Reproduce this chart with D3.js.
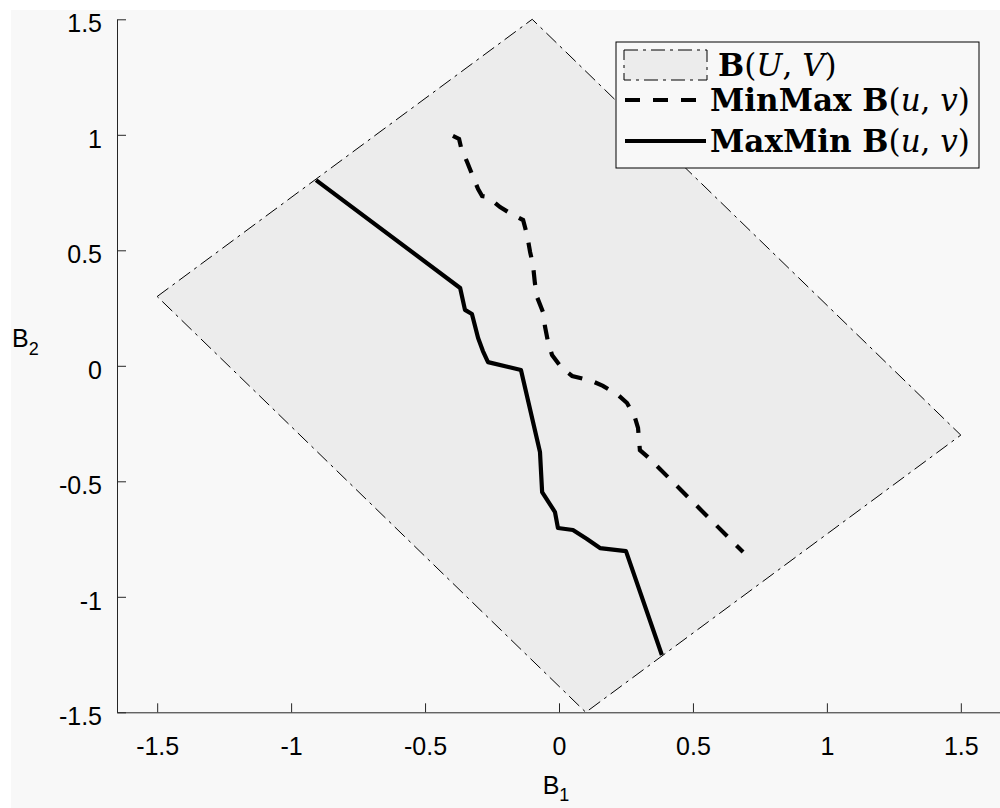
<!DOCTYPE html>
<html>
<head>
<meta charset="utf-8">
<script src="https://cdn.jsdelivr.net/npm/d3@7"></script>
<style>
  html, body { margin: 0; padding: 0; background: #ffffff; }
  svg { display: block; }
</style>
</head>
<body>
<svg id="chart" width="1000" height="808"></svg>
<script>
// ---- data ----
const xTicks = [-1.5, -1, -0.5, 0, 0.5, 1, 1.5];
const yTicks = [-1.5, -1, -0.5, 0, 0.5, 1, 1.5];

// region B(U,V) vertices
const regionX = [-1.5, -0.1, 1.5, 0.1];
const regionY = [0.3, 1.5, -0.3, -1.5];

// MinMax B(u,v) (dashed)
const minMaxX = [-0.396, -0.373, -0.366, -0.343, -0.325, -0.302, -0.287, -0.265, -0.220, -0.183, -0.134, -0.119, -0.108, -0.097, -0.090, -0.082, -0.060, -0.052, -0.041, -0.026, 0.011, 0.049, 0.123, 0.164, 0.220, 0.254, 0.284, 0.295, 0.302, 0.332, 0.687];
const minMaxY = [0.995, 0.982, 0.947, 0.882, 0.830, 0.765, 0.735, 0.731, 0.687, 0.661, 0.631, 0.566, 0.493, 0.437, 0.358, 0.298, 0.233, 0.168, 0.103, 0.047, -0.010, -0.044, -0.066, -0.087, -0.126, -0.161, -0.226, -0.269, -0.365, -0.395, -0.806];

// MaxMin B(u,v) (solid)
const maxMinX = [-0.907, -0.369, -0.351, -0.325, -0.302, -0.284, -0.265, -0.142, -0.071, -0.063, -0.015, -0.004, 0.052, 0.103, 0.153, 0.250, 0.384];
const maxMinY = [0.804, 0.337, 0.242, 0.224, 0.120, 0.064, 0.016, -0.018, -0.373, -0.547, -0.633, -0.702, -0.711, -0.749, -0.789, -0.802, -1.252];

const legendLabels = ["MinMax", "MaxMin"];

// ---- drawing ----
const svg = d3.select("#chart");
const bg = "#f8f8f8";
const fillCol = "#ececec";
const axisCol = "#262626";

svg.append("rect").attr("x", 11).attr("y", 10).attr("width", 989).attr("height", 798).attr("fill", bg);

const x = d3.scaleLinear().domain([-1.65, 1.65]).range([117, 1001]);
const y = d3.scaleLinear().domain([-1.5, 1.5]).range([712.3, 19.3]);

const line = d3.line().x(d => x(d[0])).y(d => y(d[1]));

// region
const regionPts = regionX.map((v, i) => [v, regionY[i]]);
svg.append("path")
  .attr("d", line(regionPts) + "Z")
  .attr("fill", fillCol)
  .attr("stroke", "#000")
  .attr("stroke-width", 1)
  .attr("stroke-dasharray", "14,5,3,5");

// MaxMin solid
svg.append("path")
  .attr("d", line(maxMinX.map((v, i) => [v, maxMinY[i]])))
  .attr("fill", "none")
  .attr("stroke", "#000")
  .attr("stroke-width", 4.2)
  .attr("stroke-linejoin", "round");

// MinMax dashed
svg.append("path")
  .attr("d", line(minMaxX.map((v, i) => [v, minMaxY[i]])))
  .attr("fill", "none")
  .attr("stroke", "#000")
  .attr("stroke-width", 4.2)
  .attr("stroke-dasharray", "15,13");

// axes
const fmt = d => String(d);
const xAxis = d3.axisBottom(x).tickValues(xTicks).tickFormat(fmt).tickSizeInner(-9).tickSizeOuter(0).tickPadding(25);
const yAxis = d3.axisLeft(y).tickValues(yTicks).tickFormat(fmt).tickSizeInner(-9).tickSizeOuter(0).tickPadding(15);

const gx = svg.append("g").attr("transform", `translate(0,${y(-1.5)})`).call(xAxis);
const gy = svg.append("g").attr("transform", `translate(${x(-1.65)},0)`).call(yAxis);
[gx, gy].forEach(g => {
  g.select(".domain").attr("stroke", axisCol).attr("stroke-width", 1);
  g.selectAll(".tick line").attr("stroke", axisCol);
  g.selectAll(".tick text").attr("fill", "#000").attr("font-family", "Liberation Sans, Arial, sans-serif").attr("font-size", 25);
});
gy.selectAll(".tick text").attr("dy", "0.5em");

// axis labels
const xl = svg.append("text").attr("x", 556).attr("y", 794).attr("text-anchor", "middle")
  .attr("font-family", "Liberation Sans, Arial, sans-serif").attr("font-size", 25).attr("fill", "#000");
xl.append("tspan").text("B");
xl.append("tspan").attr("font-size", 18).attr("dy", 7).text("1");

const yl = svg.append("text").attr("x", 12).attr("y", 347)
  .attr("font-family", "Liberation Sans, Arial, sans-serif").attr("font-size", 25).attr("fill", "#000");
yl.append("tspan").text("B");
yl.append("tspan").attr("font-size", 18).attr("dy", 8).text("2");

// legend
const lg = svg.append("g");
lg.append("rect").attr("x", 616).attr("y", 42).attr("width", 363).attr("height", 126)
  .attr("fill", bg).attr("stroke", "#000").attr("stroke-width", 1);

const rowY = [65, 100, 141];
lg.append("rect").attr("x", 624).attr("y", rowY[0] - 15).attr("width", 83).attr("height", 30)
  .attr("fill", fillCol).attr("stroke", "#000").attr("stroke-width", 1).attr("stroke-dasharray", "14,5,3,5");
lg.append("line").attr("x1", 625).attr("x2", 706).attr("y1", rowY[1]).attr("y2", rowY[1])
  .attr("stroke", "#000").attr("stroke-width", 4.2).attr("stroke-dasharray", "15,13");
lg.append("line").attr("x1", 625).attr("x2", 706).attr("y1", rowY[2]).attr("y2", rowY[2])
  .attr("stroke", "#000").attr("stroke-width", 4.2);

const serif = "DejaVu Serif, Liberation Serif, serif";
function bForm(t, args) {
  t.append("tspan").attr("font-weight", "bold").text("B");
  t.append("tspan").text("(");
  t.append("tspan").attr("font-style", "italic").text(args[0]);
  t.append("tspan").text(", ");
  t.append("tspan").attr("font-style", "italic").text(args[1]);
  t.append("tspan").text(")");
}
const t0 = lg.append("text").attr("x", 718).attr("y", rowY[0]).attr("dy", "0.35em")
  .attr("font-family", serif).attr("font-size", 31).attr("fill", "#000");
bForm(t0, ["U", "V"]);
[1, 2].forEach(i => {
  const t = lg.append("text").attr("x", 710).attr("y", rowY[i]).attr("dy", "0.35em")
    .attr("font-family", serif).attr("font-size", 31).attr("fill", "#000");
  t.append("tspan").attr("font-weight", "bold").text(legendLabels[i - 1] + " ");
  bForm(t, ["u", "v"]);
});
</script>
</body>
</html>
